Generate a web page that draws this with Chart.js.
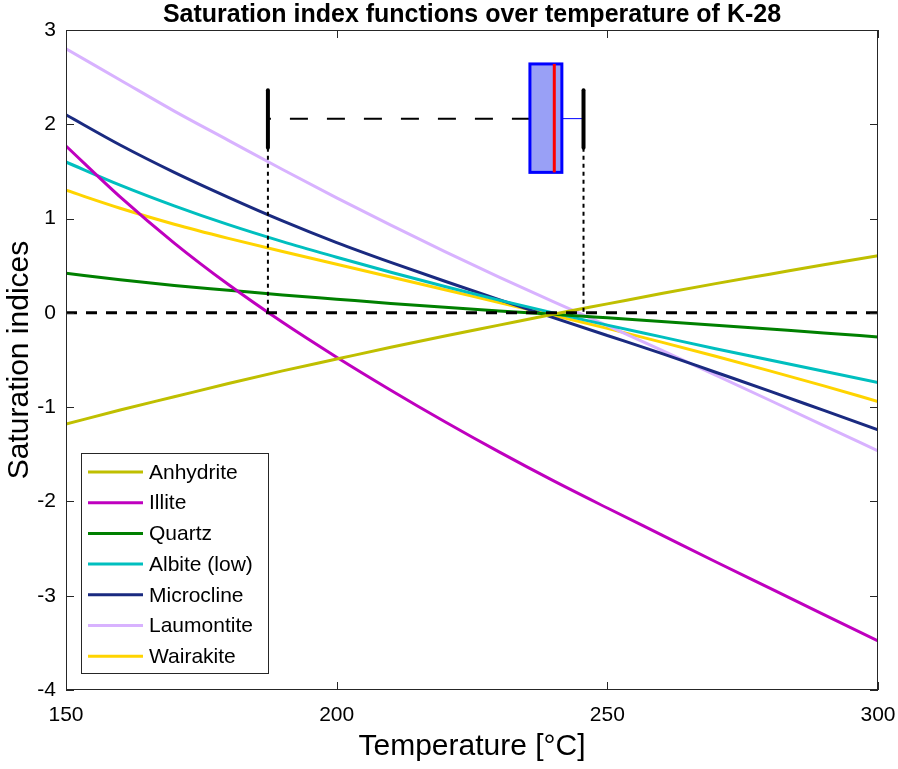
<!DOCTYPE html>
<html>
<head>
<meta charset="utf-8">
<script src="https://cdn.jsdelivr.net/npm/chart.js@4.4.1/dist/chart.umd.min.js"></script>
<style>
  html, body { margin: 0; padding: 0; background: #fff; }
  #wrap { width: 898px; height: 769px; }
</style>
</head>
<body>
<div id="wrap"><canvas id="chart" width="898" height="769"></canvas></div>
<script>
// temperatures (°C)
const temps = [150, 160, 170, 180, 190, 200, 210, 220, 230, 240, 250, 260, 270, 280, 290, 300];

// saturation indices per mineral
const anhydrite  = [-1.18, -1.03, -0.89, -0.75, -0.615, -0.49, -0.365, -0.245, -0.13, -0.015, 0.095, 0.205, 0.31, 0.41, 0.51, 0.605];
const illite     = [1.77, 1.23, 0.74, 0.30, -0.10, -0.47, -0.82, -1.155, -1.475, -1.78, -2.07, -2.355, -2.64, -2.92, -3.20, -3.48];
const quartz     = [0.42, 0.35, 0.29, 0.24, 0.19, 0.145, 0.10, 0.06, 0.02, -0.015, -0.053, -0.092, -0.131, -0.172, -0.213, -0.255];
const albite     = [1.60, 1.355, 1.135, 0.935, 0.755, 0.59, 0.43, 0.28, 0.135, 0.0, -0.13, -0.255, -0.38, -0.50, -0.62, -0.74];
const microcline = [2.10, 1.78, 1.49, 1.225, 0.975, 0.745, 0.535, 0.335, 0.14, -0.05, -0.24, -0.43, -0.63, -0.83, -1.035, -1.24];
const laumontite = [2.80, 2.47, 2.14, 1.83, 1.52, 1.22, 0.93, 0.65, 0.38, 0.12, -0.135, -0.395, -0.66, -0.927, -1.195, -1.465];
const wairakite  = [1.30, 1.11, 0.94, 0.79, 0.65, 0.515, 0.38, 0.245, 0.11, -0.025, -0.165, -0.31, -0.46, -0.615, -0.775, -0.94];

const names  = ["Anhydrite", "Illite", "Quartz", "Albite (low)", "Microcline", "Laumontite", "Wairakite"];
const series = [anhydrite, illite, quartz, albite, microcline, laumontite, wairakite];
const colors = ["#bfbf00", "#bf00bf", "#008000", "#00bfbf", "#1a2a80", "#d8b2ff", "#ffd400"];

// geothermometer spread (box plot) of temperatures
const whiskerLow = 187.3, q1 = 235.7, median = 240.2, q3 = 241.6, whiskerHigh = 245.6;
const boxTop = 2.64, boxBottom = 1.49, whiskerLevel = 2.06, capTop = 2.36, capBottom = 1.75;

const xTicks = [150, 200, 250, 300];
const yTicks = [-4, -3, -2, -1, 0, 1, 2, 3];

const FONT = "'Liberation Sans', Arial, sans-serif";

const datasets = series.map((vals, i) => ({
  label: names[i],
  data: temps.map((t, j) => ({ x: t, y: vals[j] })),
  borderColor: colors[i],
  backgroundColor: colors[i],
  borderWidth: 3,
  pointRadius: 0,
  cubicInterpolationMode: "monotone",
  fill: false,
}));

const overlay = {
  id: "overlay",
  afterDatasetsDraw(chart) {
    const { ctx, chartArea: a, scales: { x, y } } = chart;
    ctx.save();
    ctx.beginPath();
    ctx.rect(a.left, a.top, a.right - a.left, a.bottom - a.top);
    ctx.clip();

    // zero line
    ctx.strokeStyle = "#000";
    ctx.lineWidth = 3;
    ctx.setLineDash([11, 9]);
    ctx.beginPath();
    ctx.moveTo(a.left, y.getPixelForValue(0));
    ctx.lineTo(a.right, y.getPixelForValue(0));
    ctx.stroke();

    // dotted drop lines from whiskers
    ctx.lineWidth = 2;
    ctx.setLineDash([4, 4]);
    [whiskerLow, whiskerHigh].forEach(t => {
      ctx.beginPath();
      ctx.moveTo(x.getPixelForValue(t), y.getPixelForValue(capBottom));
      ctx.lineTo(x.getPixelForValue(t), y.getPixelForValue(0));
      ctx.stroke();
    });

    // left whisker (dashed)
    ctx.lineWidth = 2;
    ctx.setLineDash([18, 19]);
    ctx.beginPath();
    ctx.moveTo(x.getPixelForValue(q1), y.getPixelForValue(whiskerLevel));
    ctx.lineTo(x.getPixelForValue(whiskerLow), y.getPixelForValue(whiskerLevel));
    ctx.stroke();
    ctx.setLineDash([]);

    // right whisker (thin blue)
    ctx.strokeStyle = "#0000ff";
    ctx.lineWidth = 1;
    ctx.beginPath();
    ctx.moveTo(x.getPixelForValue(q3), y.getPixelForValue(whiskerLevel));
    ctx.lineTo(x.getPixelForValue(whiskerHigh), y.getPixelForValue(whiskerLevel));
    ctx.stroke();

    // caps
    ctx.strokeStyle = "#000";
    ctx.lineWidth = 4;
    ctx.lineCap = "round";
    [whiskerLow, whiskerHigh].forEach(t => {
      ctx.beginPath();
      ctx.moveTo(x.getPixelForValue(t), y.getPixelForValue(capTop));
      ctx.lineTo(x.getPixelForValue(t), y.getPixelForValue(capBottom));
      ctx.stroke();
    });
    ctx.lineCap = "butt";

    // box
    const bx0 = x.getPixelForValue(q1), bx1 = x.getPixelForValue(q3);
    const by0 = y.getPixelForValue(boxTop), by1 = y.getPixelForValue(boxBottom);
    ctx.fillStyle = "#99a0f6";
    ctx.fillRect(bx0, by0, bx1 - bx0, by1 - by0);
    ctx.strokeStyle = "#0000ff";
    ctx.lineWidth = 3;
    ctx.strokeRect(bx0, by0, bx1 - bx0, by1 - by0);
    ctx.strokeStyle = "#ff0000";
    ctx.beginPath();
    ctx.moveTo(x.getPixelForValue(median), by0);
    ctx.lineTo(x.getPixelForValue(median), by1);
    ctx.stroke();
    ctx.restore();

    // axes box and inward ticks
    ctx.save();
    ctx.strokeStyle = "#262626";
    ctx.lineWidth = 1;
    ctx.strokeRect(a.left + 0.5, a.top + 0.5, a.right - a.left - 1, a.bottom - a.top - 1);
    ctx.beginPath();
    xTicks.forEach(t => {
      const px = Math.round(x.getPixelForValue(t)) + 0.5;
      ctx.moveTo(px, a.bottom); ctx.lineTo(px, a.bottom - 8);
      ctx.moveTo(px, a.top); ctx.lineTo(px, a.top + 8);
    });
    yTicks.forEach(v => {
      const py = Math.round(y.getPixelForValue(v)) + 0.5;
      ctx.moveTo(a.left, py); ctx.lineTo(a.left + 8, py);
      ctx.moveTo(a.right, py); ctx.lineTo(a.right - 8, py);
    });
    ctx.stroke();

    // legend
    const lx = 81, ly = 453, lw = 187, lh = 220, step = 30.7;
    ctx.fillStyle = "#fff";
    ctx.fillRect(lx, ly, lw, lh);
    ctx.strokeStyle = "#262626";
    ctx.strokeRect(lx + 0.5, ly + 0.5, lw, lh);
    ctx.font = "21px " + FONT;
    ctx.textBaseline = "middle";
    ctx.textAlign = "left";
    chart.data.datasets.forEach((ds, i) => {
      const cy = ly + 19 + i * step;
      ctx.strokeStyle = ds.borderColor;
      ctx.lineWidth = 3;
      ctx.beginPath();
      ctx.moveTo(88, cy); ctx.lineTo(143, cy);
      ctx.stroke();
      ctx.fillStyle = "#000";
      ctx.fillText(ds.label, 149, cy + 1);
    });
    ctx.restore();
  }
};

new Chart(document.getElementById("chart"), {
  type: "line",
  data: { datasets },
  plugins: [overlay],
  options: {
    responsive: false,
    animation: false,
    layout: { padding: { left: 0, right: 20, top: 0, bottom: 0 } },
    plugins: {
      legend: { display: false },
      tooltip: { enabled: false },
      title: {
        display: true,
        fullSize: false,
        text: "Saturation index functions over temperature of K-28",
        color: "#000",
        font: { family: FONT, size: 25, weight: "bold" },
        padding: { top: 0, bottom: 0 },
      },
    },
    scales: {
      x: {
        type: "linear",
        min: 150,
        max: 300,
        afterFit: (s) => { s.height = 79; s.paddingRight = 0; s.paddingLeft = 0; },
        afterBuildTicks: (s) => { s.ticks = xTicks.map(v => ({ value: v })); },
        grid: { display: false, drawTicks: false },
        border: { display: false },
        ticks: { color: "#000", font: { family: FONT, size: 21 }, padding: 13, maxRotation: 0 },
        title: {
          display: true,
          text: "Temperature [°C]",
          color: "#000",
          font: { family: FONT, size: 30 },
          padding: { top: 0, bottom: 4 },
        },
      },
      y: {
        type: "linear",
        min: -4,
        max: 3,
        afterFit: (s) => { s.width = 66; },
        afterBuildTicks: (s) => { s.ticks = yTicks.map(v => ({ value: v })); },
        grid: { display: false, drawTicks: false },
        border: { display: false },
        ticks: { color: "#000", font: { family: FONT, size: 21 }, padding: 10 },
        title: {
          display: true,
          text: "Saturation indices",
          color: "#000",
          font: { family: FONT, size: 30 },
          padding: { top: 2, bottom: 0 },
        },
      },
    },
  },
});
</script>
</body>
</html>
